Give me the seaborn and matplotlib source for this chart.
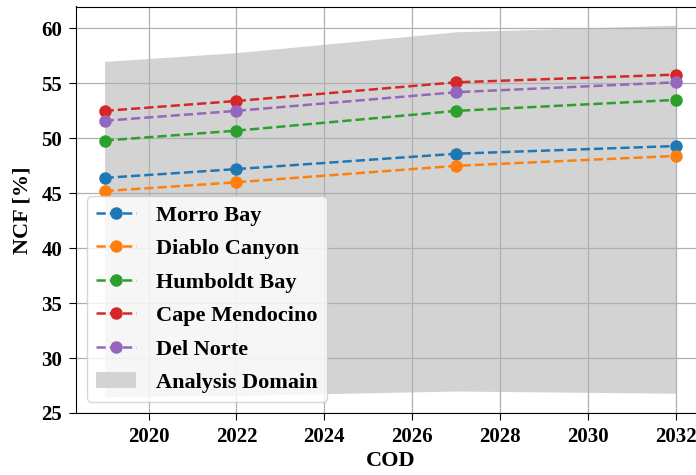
import matplotlib
matplotlib.use("Agg")
import matplotlib.pyplot as plt
import seaborn as sns
import pandas as pd

cod_years = [2019, 2022, 2027, 2032]
morro_bay = [46.4, 47.2, 48.6, 49.3]
diablo_canyon = [45.2, 46.0, 47.5, 48.4]
humboldt_bay = [49.8, 50.7, 52.5, 53.5]
cape_mendocino = [52.5, 53.4, 55.1, 55.8]
del_norte = [51.6, 52.5, 54.2, 55.1]
domain_lower = [26.5, 26.6, 27.0, 26.8]
domain_upper = [57.0, 57.8, 59.7, 60.3]

sites = ["Morro Bay", "Diablo Canyon", "Humboldt Bay", "Cape Mendocino", "Del Norte"]
series = [morro_bay, diablo_canyon, humboldt_bay, cape_mendocino, del_norte]

rows = []
for s, vals in zip(sites, series):
    for x, v in zip(cod_years, vals):
        rows.append({"COD": x, "NCF": v, "Site": s})
df = pd.DataFrame(rows)

plt.rcParams['font.family'] = ['Liberation Serif', 'DejaVu Serif']
plt.rcParams['font.weight'] = 'bold'
plt.rcParams['axes.labelweight'] = 'bold'

fig = plt.figure(figsize=(6.96, 4.75), dpi=100)
ax = fig.add_axes([76 / 696, 1 - 413 / 475, 628.6 / 696, (413 - 6.5) / 475])

ax.fill_between(cod_years, domain_lower, domain_upper, color='lightgray',
                zorder=1, label='Analysis Domain', linewidth=0)

palette = sns.color_palette("tab10", 5)
for i, s in enumerate(sites):
    sns.lineplot(data=df[df["Site"] == s], x="COD", y="NCF", ax=ax,
                 color=palette[i], marker='o', markersize=9, markeredgewidth=0,
                 linestyle='--', linewidth=1.8, label=s, zorder=3)

ax.grid(True, color='#b0b0b0', linewidth=0.9)
for gl in ax.get_xgridlines() + ax.get_ygridlines():
    gl.set_zorder(1.5)

ax.set_xlim(2018.35, 2032.65)
ax.set_ylim(25, 62)
ax.set_xticks([2020, 2022, 2024, 2026, 2028, 2030, 2032])
ax.set_yticks([25, 30, 35, 40, 45, 50, 55, 60])
ax.tick_params(labelsize=15, direction='out', length=5, pad=5)
for lab in ax.get_xticklabels() + ax.get_yticklabels():
    lab.set_fontweight('bold')
ax.set_xlabel("COD", fontsize=16, fontweight='bold', labelpad=3)
ax.set_ylabel("NCF [%]", fontsize=16, fontweight='bold', labelpad=6)

handles, labels = ax.get_legend_handles_labels()
order = [labels.index(s) for s in sites] + [labels.index('Analysis Domain')]
leg = ax.legend([handles[i] for i in order], [labels[i] for i in order],
                loc='lower left',
                prop={'family': 'Liberation Serif', 'weight': 'bold', 'size': 16},
                framealpha=0.8, borderpad=0.4, handlelength=1.8,
                handletextpad=0.9, labelspacing=0.58, borderaxespad=0.5)

fig.savefig("out.png", dpi=100)
